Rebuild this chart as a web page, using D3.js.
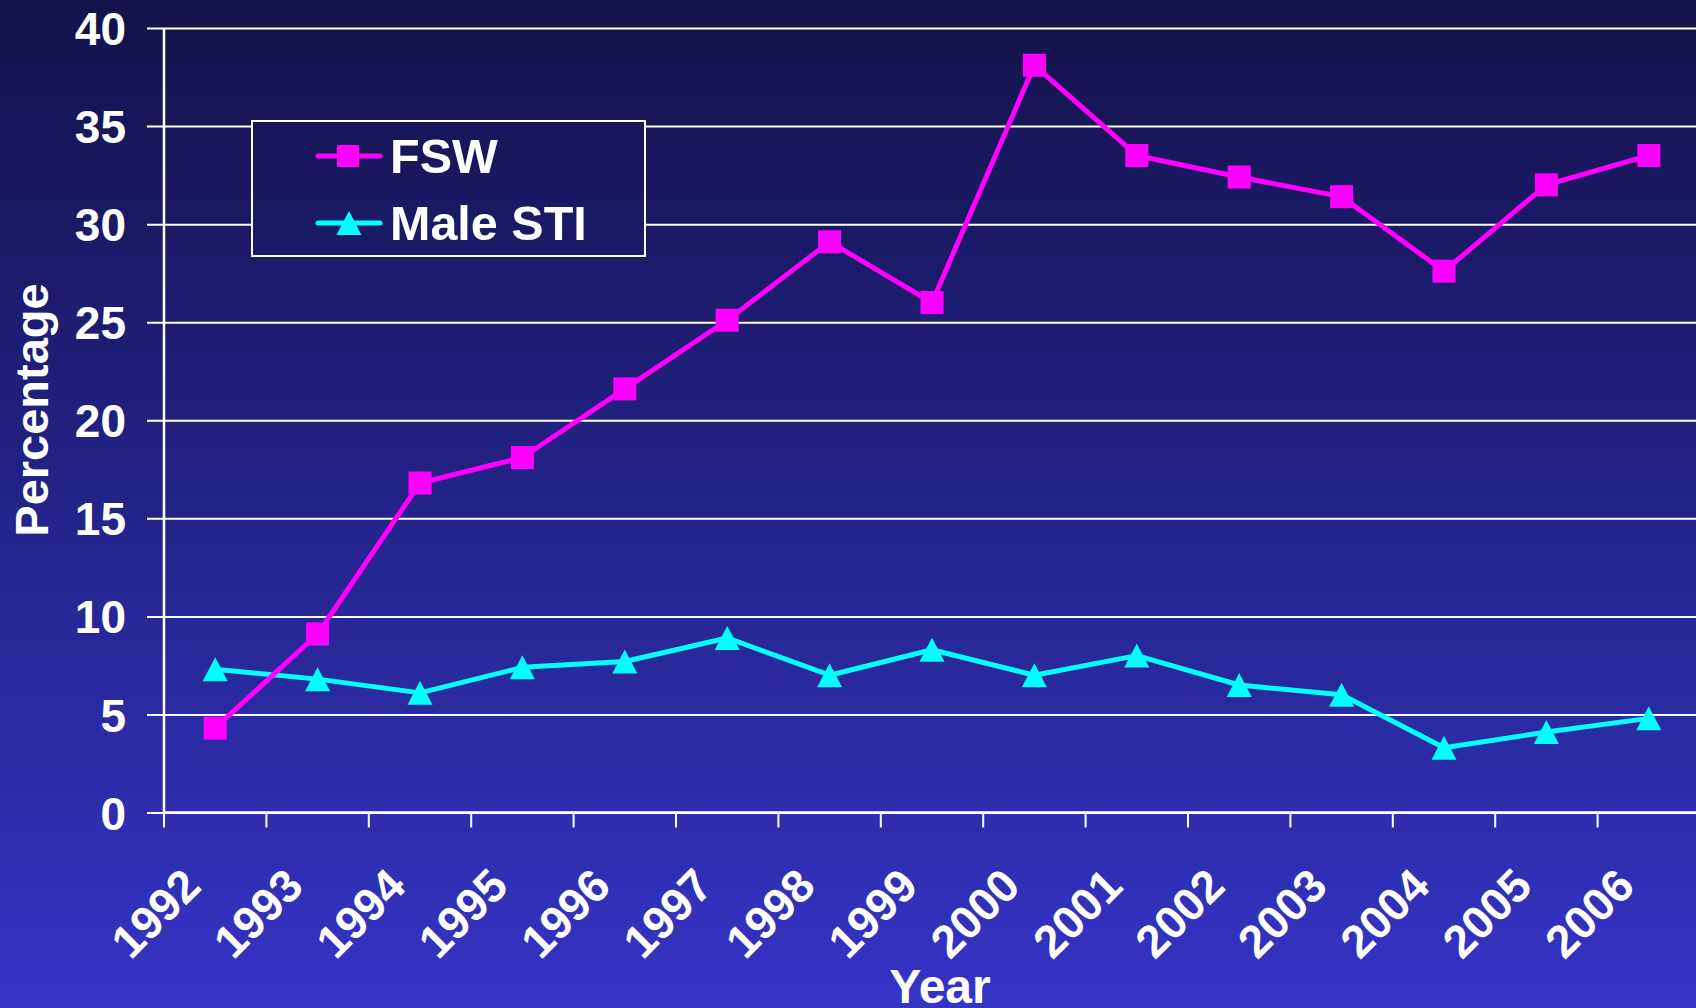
<!DOCTYPE html>
<html>
<head>
<meta charset="utf-8">
<script src="https://cdn.jsdelivr.net/npm/d3@7"></script>
<style>
    html, body { margin: 0; padding: 0; background: #1a1960; }
    svg { display: block; }
    text { font-family: "Liberation Sans", Arial, sans-serif; font-weight: bold; fill: #fff; }
</style>
</head>
<body>
<div id="chart"></div>
<script>
var years = ["1992", "1993", "1994", "1995", "1996", "1997", "1998", "1999",
    "2000", "2001", "2002", "2003", "2004", "2005", "2006"];
var fswValues = [4.3, 9.1, 16.8, 18.1, 21.6, 25.1, 29.1, 26.0, 38.1, 33.5, 32.4, 31.4, 27.6, 32.0, 33.5];
var maleStiValues = [7.3, 6.8, 6.1, 7.4, 7.7, 8.9, 7.0, 8.3, 7.0, 8.0, 6.5, 6.0, 3.3, 4.1, 4.8];
var yTicks = [0, 5, 10, 15, 20, 25, 30, 35, 40];
var seriesNames = ["FSW", "Male STI"];

var W = 1696, H = 1008;
// note: "top" is taken by window.top, so plot edges get their own names
var plotL = 164, plotR = 1700, plotT = 28, plotB = 812.5;

var svg = d3.select("#chart").append("svg")
    .attr("width", W)
    .attr("height", H);

var defs = svg.append("defs");
var grad = defs.append("linearGradient")
    .attr("id", "bg")
    .attr("gradientUnits", "userSpaceOnUse")
    .attr("x1", 0).attr("y1", 0)
    .attr("x2", 0).attr("y2", H);
grad.append("stop").attr("offset", "0%").attr("stop-color", "#13124a");
grad.append("stop").attr("offset", "100%").attr("stop-color", "#3434c6");

svg.append("rect")
    .attr("width", W)
    .attr("height", H)
    .attr("fill", "url(#bg)");

var x = d3.scaleBand().domain(years).range([plotL, plotR]).padding(0);
var y = d3.scaleLinear().domain([0, 40]).range([plotB, plotT]);

function cx(i) { return x(years[i]) + x.bandwidth() / 2; }

// gridlines + y ticks
var yAxis = d3.axisLeft(y)
    .tickValues(yTicks)
    .tickSize(-(plotR - plotL))
    .tickFormat(d3.format("d"));

var gy = svg.append("g")
    .attr("transform", "translate(" + plotL + ",0)")
    .call(yAxis);
gy.select(".domain").remove();
gy.selectAll(".tick line")
    .attr("x1", -17)
    .attr("stroke", "#fff")
    .attr("stroke-width", 2);
gy.selectAll(".tick text")
    .attr("x", -38)
    .attr("dy", "0.36em")
    .attr("font-size", null)
    .attr("font-family", null)
    .style("font-size", "46px");

// y axis line
svg.append("line")
    .attr("x1", plotL).attr("x2", plotL)
    .attr("y1", plotT).attr("y2", plotB)
    .attr("stroke", "#fff")
    .attr("stroke-width", 2.5);

// x axis: ticks between categories, labels rotated
var gx = svg.append("g").attr("class", "xaxis");
var bounds = years.map(function(d) { return x(d); }).concat([plotR]);
gx.selectAll("line.xt")
    .data(bounds)
    .enter().append("line")
    .attr("class", "xt")
    .attr("x1", function(d) { return d; })
    .attr("x2", function(d) { return d; })
    .attr("y1", plotB)
    .attr("y2", plotB + 15)
    .attr("stroke", "#fff")
    .attr("stroke-width", 2);
gx.append("line")
    .attr("x1", plotL).attr("x2", plotR)
    .attr("y1", plotB).attr("y2", plotB)
    .attr("stroke", "#fff")
    .attr("stroke-width", 2.5);

gx.selectAll("text.xl")
    .data(years)
    .enter().append("text")
    .attr("class", "xl")
    .attr("text-anchor", "end")
    .style("font-size", "46px")
    .attr("transform", function(d, i) {
        return "translate(" + (cx(i) - 12) + "," + (plotB + 76) + ") rotate(-45)";
    })
    .text(function(d) { return d; });

// axis titles
svg.append("text")
    .attr("text-anchor", "middle")
    .style("font-size", "47px")
    .attr("transform", "translate(48,410) rotate(-90)")
    .text("Percentage");

svg.append("text")
    .attr("text-anchor", "middle")
    .attr("x", 940)
    .attr("y", 1003)
    .style("font-size", "48px")
    .text("Year");

// series
var line = d3.line()
    .x(function(d, i) { return cx(i); })
    .y(function(d) { return y(d); });

function drawTriangle(sel, px, py) {
    // triangle, box 25w x 24h centred on the point
    sel.append("path")
        .attr("d", "M" + px + "," + (py - 12) + "L" + (px + 12.5) + "," + (py + 12) + "L" + (px - 12.5) + "," + (py + 12) + "Z")
        .attr("fill", "#00ffff");
}

svg.append("path")
    .datum(maleStiValues)
    .attr("fill", "none")
    .attr("stroke", "#00ffff")
    .attr("stroke-width", 5)
    .attr("stroke-linejoin", "round")
    .attr("d", line);

var stiG = svg.append("g");
maleStiValues.forEach(function(v, i) {
    drawTriangle(stiG, cx(i), y(v));
});

svg.append("path")
    .datum(fswValues)
    .attr("fill", "none")
    .attr("stroke", "#ff00ff")
    .attr("stroke-width", 5)
    .attr("stroke-linejoin", "round")
    .attr("d", line);

svg.append("g").selectAll("rect")
    .data(fswValues)
    .enter().append("rect")
    .attr("x", function(d, i) { return cx(i) - 11.5; })
    .attr("y", function(d) { return y(d) - 11.5; })
    .attr("width", 23)
    .attr("height", 23)
    .attr("fill", "#ff00ff");

// legend
var lg = svg.append("g");
lg.append("rect")
    .attr("x", 252).attr("y", 121)
    .attr("width", 393).attr("height", 135)
    .attr("fill", "url(#bg)")
    .attr("stroke", "#fff")
    .attr("stroke-width", 2);

var rowsY = [156, 223];
lg.append("line")
    .attr("x1", 318).attr("x2", 380)
    .attr("y1", rowsY[0]).attr("y2", rowsY[0])
    .attr("stroke", "#ff00ff").attr("stroke-width", 5).attr("stroke-linecap", "round");
lg.append("rect")
    .attr("x", 337).attr("y", rowsY[0] - 11)
    .attr("width", 22).attr("height", 22)
    .attr("fill", "#ff00ff");
lg.append("line")
    .attr("x1", 318).attr("x2", 380)
    .attr("y1", rowsY[1]).attr("y2", rowsY[1])
    .attr("stroke", "#00ffff").attr("stroke-width", 5).attr("stroke-linecap", "round");
drawTriangle(lg, 349, rowsY[1]);

lg.selectAll("text.leg")
    .data(seriesNames)
    .enter().append("text")
    .attr("class", "leg")
    .attr("x", 390)
    .attr("y", function(d, i) { return rowsY[i] + 17; })
    .style("font-size", "48.5px")
    .text(function(d) { return d; });
</script>
</body>
</html>
